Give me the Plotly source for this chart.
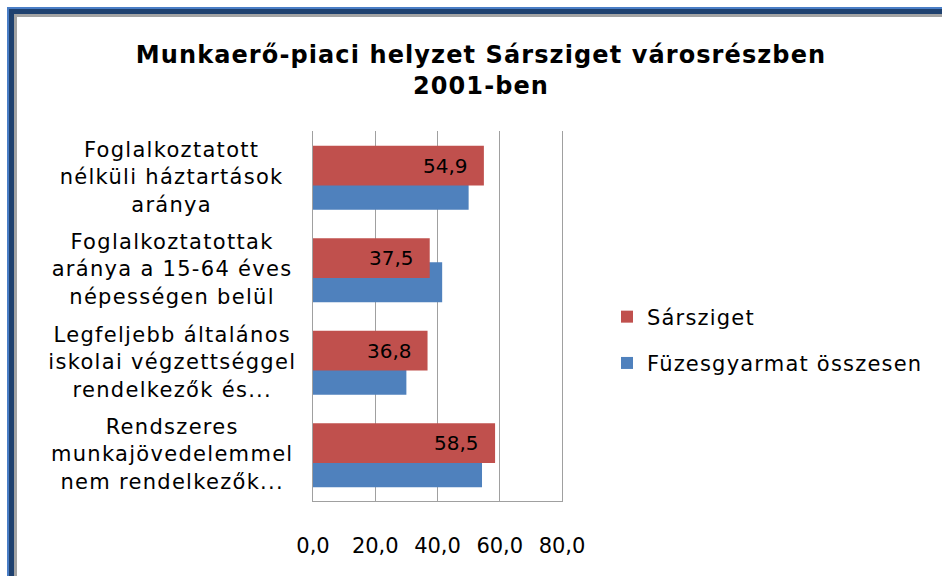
import json
import plotly.graph_objects as go

# Category labels (top to bottom) and series values
categories = [
    "Foglalkoztatott<br>nélküli háztartások<br>aránya",
    "Foglalkoztatottak<br>aránya a 15-64 éves<br>népességen belül",
    "Legfeljebb általános<br>iskolai végzettséggel<br>rendelkezők és...",
    "Rendszeres<br>munkajövedelemmel<br>nem rendelkezők...",
]
sarsziget = [54.9, 37.5, 36.8, 58.5]
fuzesgyarmat = [50.0, 41.5, 30.0, 54.3]
x_ticks = [0, 20, 40, 60, 80]
x_tick_labels = ["0,0", "20,0", "40,0", "60,0", "80,0"]

RED = "#C0504D"
BLUE = "#4F81BD"
FONT = "DejaVu Sans"

W, H = 942, 576
L, R, T, B = 313, 380, 131, 75
PW, PH = W - L - R, H - T - B


def px_x(px):
    return (px - L) / PW


def px_y(py):
    return (H - B - py) / PH


cat_idx = list(range(len(categories)))
BAR_W = 0.43

fig = go.Figure()
fig.add_trace(go.Bar(
    y=cat_idx, x=fuzesgyarmat, orientation="h", name="Füzesgyarmat összesen",
    marker=dict(color=BLUE, line=dict(width=0)), width=BAR_W, offset=-0.08,
    legendrank=2, legendgroup="b",
))
fig.add_trace(go.Bar(
    y=cat_idx, x=sarsziget, orientation="h", name="Sársziget",
    marker=dict(color=RED, line=dict(width=0)), width=BAR_W, offset=-0.34,
    legendrank=1, legendgroup="a",
))

annotations = []
# value labels at the inner end of the red bars
for i, v in enumerate(sarsziget):
    annotations.append(dict(
        x=v, y=i - 0.34 + BAR_W / 2, xref="x", yref="y",
        text=f"{v:.1f}".replace(".", ","), showarrow=False,
        xanchor="right", yanchor="middle", xshift=-14,
        font=dict(family=FONT, size=20, color="#000000"),
    ))
n_value_labels = len(annotations)
# centred category labels left of the axis
for i, c in enumerate(categories):
    annotations.append(dict(
        x=px_x(172), y=i, xref="paper", yref="y", text=c, showarrow=False,
        xanchor="center", yanchor="middle", align="center",
        font=dict(family=FONT, size=21, color="#000000"),
    ))

# window frame along the top and left edges
frame = [
    (7, "#4A7EC6"),
    (9, "#1F416F"),
    (14, "#A3A3A3"),
    (17, "#FFFFFF"),
]
shapes = []
for off, col in frame:
    shapes.append(dict(
        type="rect", xref="paper", yref="paper", layer="below",
        x0=px_x(off), x1=px_x(W + 20), y0=px_y(H + 20), y1=px_y(off),
        fillcolor=col, line=dict(width=0),
    ))

fig.update_layout(
    width=W, height=H,
    margin=dict(l=L, r=R, t=T, b=B, pad=0),
    paper_bgcolor="#FFFFFF", plot_bgcolor="rgba(0,0,0,0)",
    barmode="overlay",
    showlegend=True,
    title=dict(
        text="Munkaerő-piaci helyzet Sársziget városrészben<br>2001-ben",
        x=481 / W, xanchor="center", xref="container",
        y=1 - 63 / H, yanchor="middle", yref="container",
        font=dict(family=FONT, size=24, color="#000000", weight="bold"),
    ),
    legend=dict(
        x=px_x(607), y=px_y(340), xanchor="left", yanchor="middle",
        font=dict(family=FONT, size=21, color="#000000"),
        traceorder="grouped", tracegroupgap=16, bgcolor="rgba(0,0,0,0)",
    ),
    xaxis=dict(
        range=[0, 80], tickvals=x_ticks, ticktext=x_tick_labels,
        showgrid=True, gridcolor="#A0A0A0", gridwidth=1,
        showline=True, linecolor="#A0A0A0", linewidth=1,
        ticks="", zeroline=False, ticklabelstandoff=26,
        tickfont=dict(family=FONT, size=21, color="#000000"),
    ),
    yaxis=dict(
        range=[3.5, -0.5], showticklabels=False, showgrid=False,
        showline=True, mirror=True, linecolor="#A0A0A0", linewidth=1,
        ticks="", zeroline=False, fixedrange=True,
    ),
    annotations=annotations,
    shapes=shapes,
)

# slightly wider letter spacing for the title, legend and category labels
cat_sel = ", ".join(
    f".annotation[data-index='{k}'] text"
    for k in range(n_value_labels, len(annotations))
)
css = (
    ".gtitle{letter-spacing:1.1px}"
    ".legendtext{letter-spacing:1.2px}"
    ".legend .scrollbox{clip-path:none !important}"
    + cat_sel + "{letter-spacing:1.3px}"
)
post = (
    "var s=document.createElement('style');"
    f"s.textContent={json.dumps(css)};"
    "document.head.appendChild(s);"
)

fig.write_html("out.html", post_script=post)
